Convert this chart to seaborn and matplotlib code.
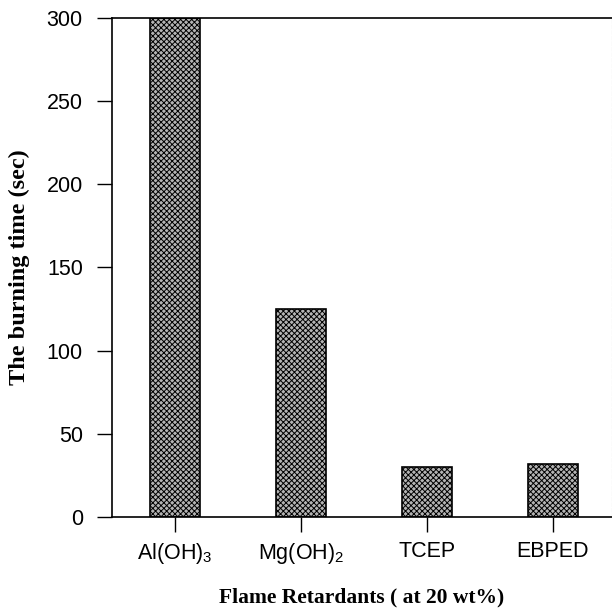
import matplotlib
matplotlib.use("Agg")
import matplotlib.pyplot as plt
import seaborn as sns
import pandas as pd

categories = [r"Al(OH)$_3$", r"Mg(OH)$_2$", "TCEP", "EBPED"]
burning_time = [300, 125, 30, 32]
yticks = [0, 50, 100, 150, 200, 250, 300]

sns.set_theme(style="ticks")
plt.rcParams["font.family"] = ["Liberation Sans", "DejaVu Sans"]
plt.rcParams["mathtext.fontset"] = "custom"
plt.rcParams["mathtext.rm"] = "Liberation Sans"
plt.rcParams["mathtext.it"] = "Liberation Sans:italic"
plt.rcParams["mathtext.default"] = "rm"
plt.rcParams["hatch.color"] = "#3a3a3a"
plt.rcParams["hatch.linewidth"] = 0.7

df = pd.DataFrame({"Flame Retardant": categories, "Time": burning_time})

fig = plt.figure(figsize=(6.12, 6.10), dpi=100)
ax = fig.add_axes([0.183, 0.1525, 0.817, 0.818])

sns.barplot(data=df, x="Flame Retardant", y="Time", ax=ax, color="#b4b4b4",
            width=0.4, edgecolor="black", linewidth=1.2, saturation=1)
for p in ax.patches:
    p.set_hatch("xxxxxx")

ax.set_xlim(-0.5, 3.47)
ax.set_ylim(0, 300)
ax.set_yticks(yticks)
ax.tick_params(axis="both", direction="out", length=11, width=1.0,
               labelsize=15.5, colors="black")
ax.tick_params(axis="y", pad=10)
ax.tick_params(axis="x", pad=6)
for s in ["left", "bottom", "top"]:
    ax.spines[s].set_color("black")
    ax.spines[s].set_linewidth(1.2)
ax.spines["right"].set_color("#bbbbbb")
ax.spines["right"].set_linewidth(0.8)
ax.spines["right"].set_linestyle((0, (3, 2)))

ax.set_xlabel("Flame Retardants ( at 20 wt%)", family="Liberation Serif",
              fontweight="bold", fontsize=15.5, labelpad=16, color="black")
ax.set_ylabel("The burning time (sec)", family="Liberation Serif",
              fontweight="bold", fontsize=17.5, labelpad=12, color="black")

fig.savefig("out.png", dpi=100, facecolor="white")
